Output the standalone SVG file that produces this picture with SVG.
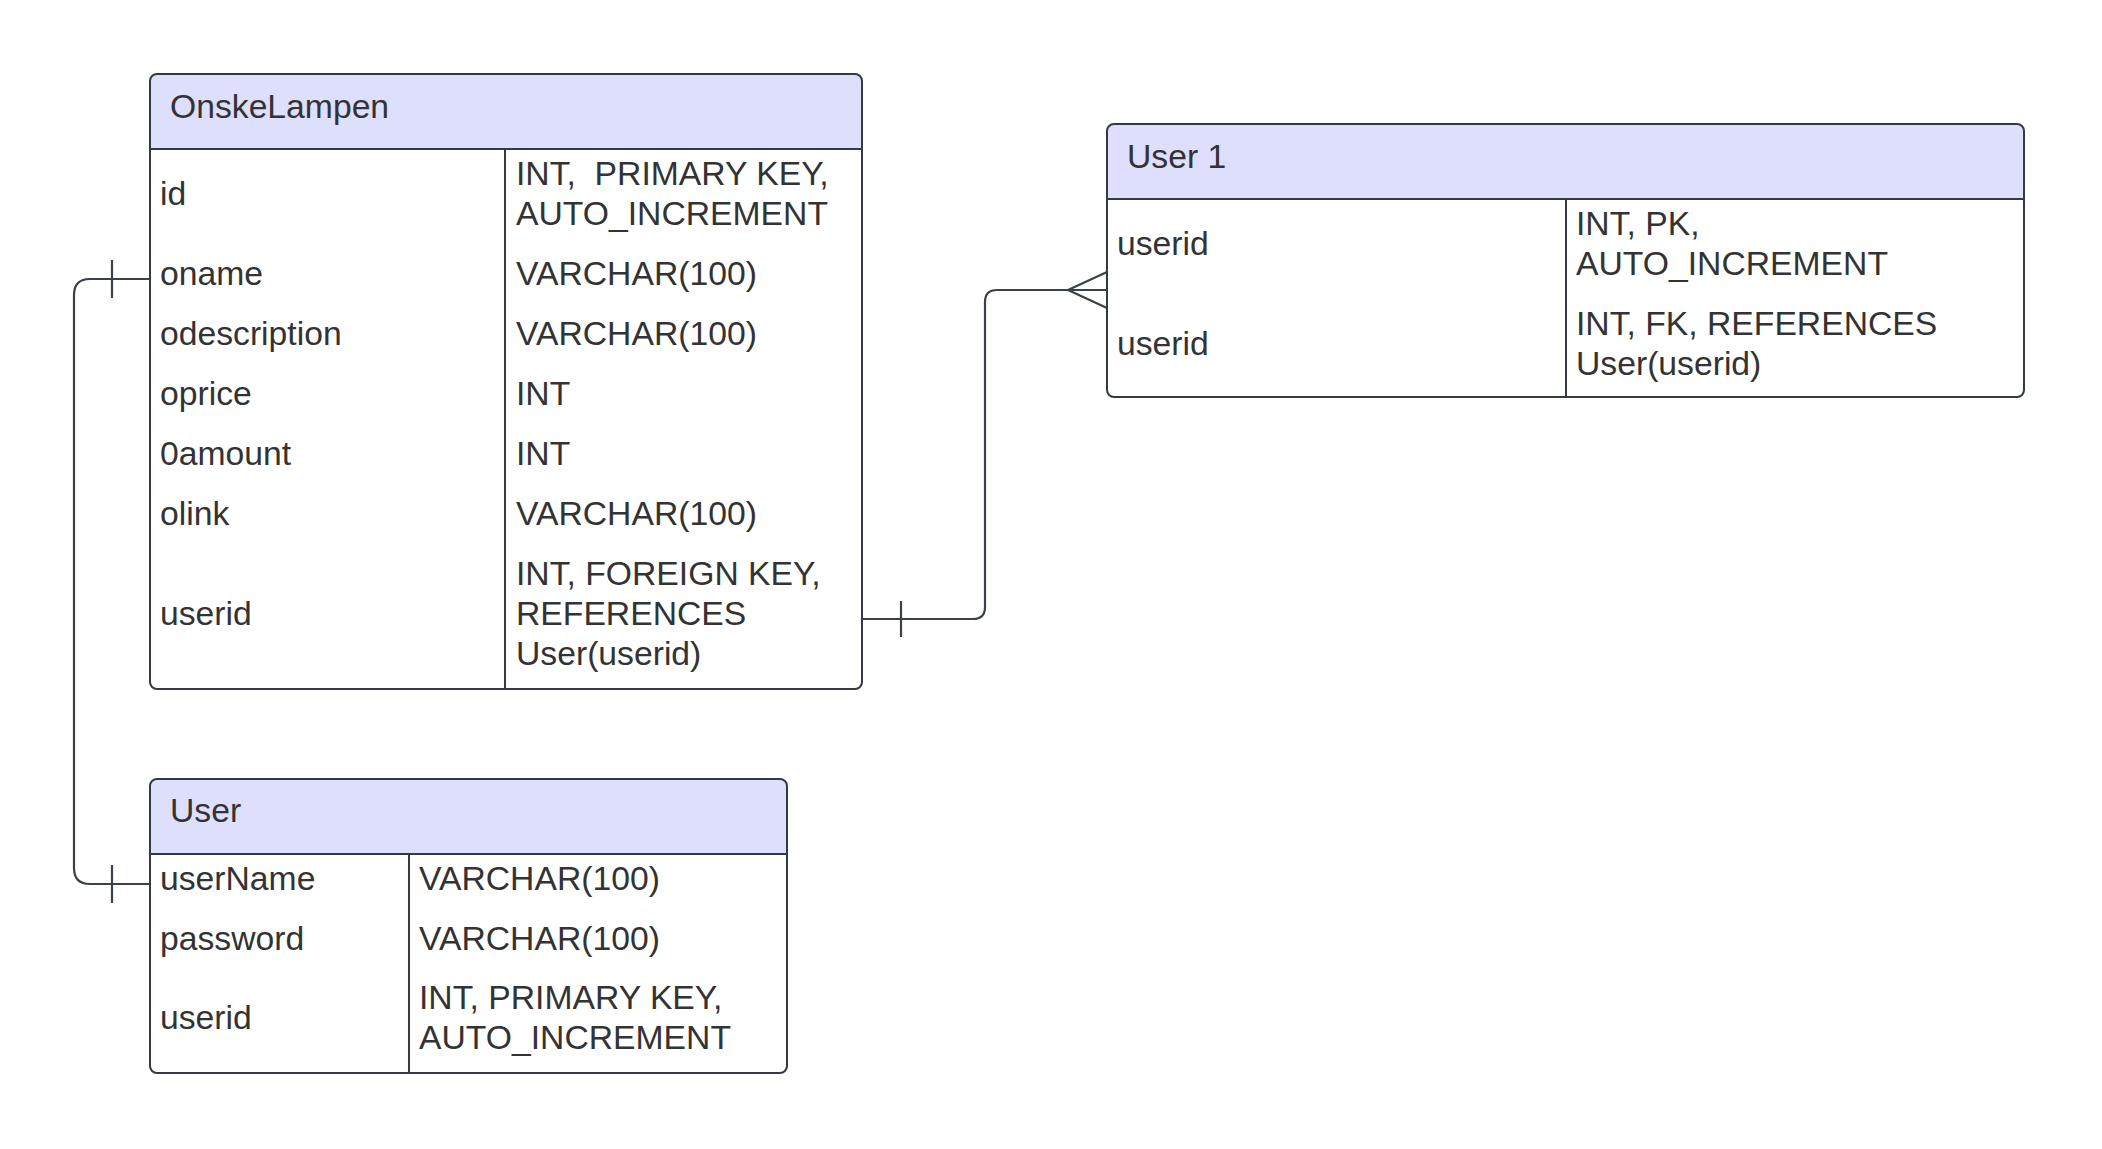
<svg xmlns="http://www.w3.org/2000/svg" width="2102" height="1149" viewBox="0 0 2102 1149">
<style>
.box{fill:#ffffff;stroke:#333a44;stroke-width:2}
.hdr{fill:#dedefd;stroke:none}
.ln{stroke:#333a44;stroke-width:2;fill:none}
.t{font-family:"Liberation Sans",Arial,sans-serif;font-size:33.7px;fill:#333333}
.conn{stroke:#3a414a;stroke-width:2.2;fill:none}
</style>
<rect width="2102" height="1149" fill="#ffffff"/>

<g id="connectors">
  <path class="conn" d="M150,279 H90 Q74,279 74,295 V868 Q74,884 90,884 H150"/>
  <line class="conn" x1="112" y1="260" x2="112" y2="298"/>
  <line class="conn" x1="112" y1="865" x2="112" y2="903"/>
  <path class="conn" d="M862,619 H973 Q985,619 985,607 V302 Q985,290 997,290 H1107"/>
  <line class="conn" x1="901" y1="601" x2="901" y2="637"/>
  <path class="conn" d="M1107,272 L1068,290 L1107,308"/>
</g>

<g id="OnskeLampen">
  <path class="hdr" d="M151,149 V81 Q151,75 157,75 H855 Q861,75 861,81 V149 Z"/>
  <rect class="box" x="150" y="74" width="712" height="615" rx="7" style="fill:none"/>
  <line class="ln" x1="150" y1="149" x2="862" y2="149"/>
  <line class="ln" x1="505" y1="149" x2="505" y2="689"/>
  <text class="t" x="170" y="118">OnskeLampen</text>
  <text class="t" x="160" y="205">id</text>
  <text class="t" x="160" y="285">oname</text>
  <text class="t" x="160" y="345">odescription</text>
  <text class="t" x="160" y="405">oprice</text>
  <text class="t" x="160" y="465">0amount</text>
  <text class="t" x="160" y="525">olink</text>
  <text class="t" x="160" y="625">userid</text>
  <text class="t" x="516" y="185" xml:space="preserve">INT,  PRIMARY KEY,</text>
  <text class="t" x="516" y="225">AUTO_INCREMENT</text>
  <text class="t" x="516" y="285">VARCHAR(100)</text>
  <text class="t" x="516" y="345">VARCHAR(100)</text>
  <text class="t" x="516" y="405">INT</text>
  <text class="t" x="516" y="465">INT</text>
  <text class="t" x="516" y="525">VARCHAR(100)</text>
  <text class="t" x="516" y="585">INT, FOREIGN KEY,</text>
  <text class="t" x="516" y="625">REFERENCES</text>
  <text class="t" x="516" y="665">User(userid)</text>
</g>

<g id="User">
  <path class="hdr" d="M151,854 V786 Q151,780 157,780 H780 Q786,780 786,786 V854 Z"/>
  <rect class="box" x="150" y="779" width="637" height="294" rx="7" style="fill:none"/>
  <line class="ln" x1="150" y1="854" x2="787" y2="854"/>
  <line class="ln" x1="409" y1="854" x2="409" y2="1073"/>
  <text class="t" x="170" y="822">User</text>
  <text class="t" x="160" y="890">userName</text>
  <text class="t" x="160" y="950">password</text>
  <text class="t" x="160" y="1029">userid</text>
  <text class="t" x="419" y="890">VARCHAR(100)</text>
  <text class="t" x="419" y="950">VARCHAR(100)</text>
  <text class="t" x="419" y="1009">INT, PRIMARY KEY,</text>
  <text class="t" x="419" y="1049">AUTO_INCREMENT</text>
</g>

<g id="User1">
  <path class="hdr" d="M1108,199 V131 Q1108,125 1114,125 H2017 Q2023,125 2023,131 V199 Z"/>
  <rect class="box" x="1107" y="124" width="917" height="273" rx="7" style="fill:none"/>
  <line class="ln" x1="1107" y1="199" x2="2024" y2="199"/>
  <line class="ln" x1="1566" y1="199" x2="1566" y2="397"/>
  <text class="t" x="1127" y="168">User 1</text>
  <text class="t" x="1117" y="255">userid</text>
  <text class="t" x="1117" y="355">userid</text>
  <text class="t" x="1576" y="235">INT, PK,</text>
  <text class="t" x="1576" y="275">AUTO_INCREMENT</text>
  <text class="t" x="1576" y="335">INT, FK, REFERENCES</text>
  <text class="t" x="1576" y="375">User(userid)</text>
</g>
</svg>
